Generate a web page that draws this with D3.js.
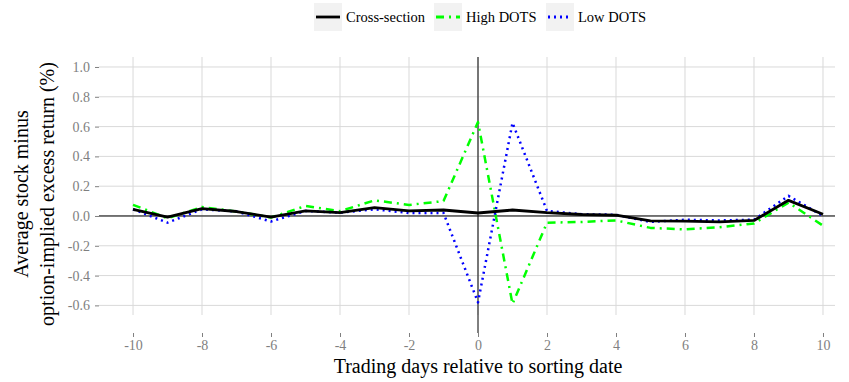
<!DOCTYPE html>
<html>
<head>
<meta charset="utf-8">
<script src="https://cdn.jsdelivr.net/npm/d3@7"></script>
<style>
  body { margin: 0; background: #fff; }
</style>
</head>
<body>
<div id="chart"></div>
<script>
const serif = "'Liberation Serif', 'DejaVu Serif', serif";

// Days relative to sorting date
const days = d3.range(-10, 11);

// Average stock minus option-implied excess return (%)
const crossSection = [0.045, -0.007, 0.05, 0.03, -0.007, 0.034, 0.022, 0.056, 0.034, 0.04, 0.02,
                      0.04, 0.022, 0.01, 0.005, -0.033, -0.035, -0.04, -0.03, 0.105, 0.012];
const highDots = [0.075, -0.015, 0.06, 0.03, -0.01, 0.067, 0.032, 0.105, 0.074, 0.1, 0.63,
                  -0.59, -0.045, -0.04, -0.03, -0.08, -0.09, -0.075, -0.05, 0.09, -0.065];
const lowDots = [0.045, -0.045, 0.045, 0.03, -0.037, 0.034, 0.022, 0.045, 0.02, 0.02, -0.58,
                 0.625, 0.034, 0.012, 0.008, -0.04, -0.025, -0.03, -0.025, 0.135, 0.0];

const xTicks = [-10, -8, -6, -4, -2, 0, 2, 4, 6, 8, 10];
const yTicks = [-0.6, -0.4, -0.2, 0.0, 0.2, 0.4, 0.6, 0.8, 1.0];

const seriesNames = ["Cross-section", "High DOTS", "Low DOTS"];
const seriesValues = [crossSection, highDots, lowDots];
const seriesColors = ["#000000", "#00ff00", "#0000ff"];
const seriesDash = [null, "8,5,2,5", "2,4"];

const width = 849, height = 382;
const margin = { top: 57, right: 14, bottom: 58, left: 99 };
const innerW = width - margin.left - margin.right;
const innerH = height - margin.top - margin.bottom;

const svg = d3.select("#chart").append("svg")
    .attr("width", width)
    .attr("height", height);

const g = svg.append("g")
    .attr("transform", "translate(" + margin.left + "," + margin.top + ")");

// Scales
const x = d3.scaleLinear().domain([-10.986, 10.348]).range([0, innerW]);
const y = d3.scaleLinear().domain([-0.725, 1.067]).range([innerH, 0]);

// Grid lines
g.selectAll(".hgrid")
    .data(yTicks)
    .enter().append("line")
    .attr("x1", 0).attr("x2", innerW)
    .attr("y1", d => y(d)).attr("y2", d => y(d))
    .attr("stroke", "#d9d9d9")
    .attr("stroke-width", 1);

g.selectAll(".vgrid")
    .data(xTicks)
    .enter().append("line")
    .attr("x1", d => x(d)).attr("x2", d => x(d))
    .attr("y1", 0).attr("y2", innerH - 9)
    .attr("stroke", "#d9d9d9")
    .attr("stroke-width", 1);

// Axes (ticks + labels only)
const yAxis = g.append("g")
    .call(d3.axisLeft(y).tickValues(yTicks).tickSize(4).tickPadding(5).tickFormat(d3.format(".1f")));
yAxis.select(".domain").remove();
yAxis.selectAll("line").attr("stroke", "#7f7f7f");
yAxis.selectAll("text")
    .attr("fill", "#7f7f7f")
    .style("font-size", "14px")
    .style("font-family", serif)
    .text(d => d3.format(".1f")(d).replace("−", "-"));

const xAxis = g.append("g")
    .attr("transform", "translate(0," + (innerH + 9) + ")")
    .call(d3.axisBottom(x).tickValues(xTicks).tickSize(4).tickPadding(3));
xAxis.select(".domain").remove();
xAxis.selectAll("line").attr("stroke", "#7f7f7f");
xAxis.selectAll("text")
    .attr("fill", "#7f7f7f")
    .style("font-size", "14px")
    .style("font-family", serif)
    .text(d => String(d));

// Reference lines at zero
g.append("line")
    .attr("x1", 0).attr("x2", innerW)
    .attr("y1", y(0)).attr("y2", y(0))
    .attr("stroke", "#000").attr("stroke-width", 1);
g.append("line")
    .attr("x1", x(0)).attr("x2", x(0))
    .attr("y1", 0).attr("y2", innerH + 9)
    .attr("stroke", "#000").attr("stroke-width", 1);

// Lines
const line = d3.line()
    .x((d, i) => x(days[i]))
    .y(d => y(d));

// draw in order so black sits on top
[1, 2, 0].forEach(k => {
    g.append("path")
        .datum(seriesValues[k])
        .attr("fill", "none")
        .attr("stroke", seriesColors[k])
        .attr("stroke-width", k === 0 ? 2.8 : 2.5)
        .attr("stroke-dasharray", seriesDash[k])
        .attr("stroke-linejoin", "round")
        .attr("d", line);
});

// Legend
const legendX = [314, 434, 546];
const legend = svg.append("g");
seriesNames.forEach((name, i) => {
    const lg = legend.append("g").attr("transform", "translate(" + legendX[i] + ",3)");
    lg.append("rect")
        .attr("width", 28).attr("height", 28)
        .attr("fill", "#f2f2f2");
    lg.append("line")
        .attr("x1", 2).attr("x2", 26)
        .attr("y1", 14).attr("y2", 14)
        .attr("stroke", seriesColors[i])
        .attr("stroke-width", 2.8)
        .attr("stroke-dasharray", seriesDash[i]);
    lg.append("text")
        .attr("x", 32).attr("y", 19)
        .style("font-size", "14.5px")
        .style("font-family", serif)
        .text(name);
});

// Axis titles
svg.append("text")
    .attr("x", margin.left + x(0))
    .attr("y", 373)
    .attr("text-anchor", "middle")
    .style("font-size", "20px")
    .style("font-family", serif)
    .text("Trading days relative to sorting date");

const yTitleMid = 194;
svg.append("text")
    .attr("transform", "translate(28," + yTitleMid + ") rotate(-90)")
    .attr("text-anchor", "middle")
    .style("font-size", "20px")
    .style("font-family", serif)
    .text("Average stock minus");
svg.append("text")
    .attr("transform", "translate(54," + yTitleMid + ") rotate(-90)")
    .attr("text-anchor", "middle")
    .style("font-size", "20px")
    .style("font-family", serif)
    .text("option-implied excess return (%)");
</script>
</body>
</html>
